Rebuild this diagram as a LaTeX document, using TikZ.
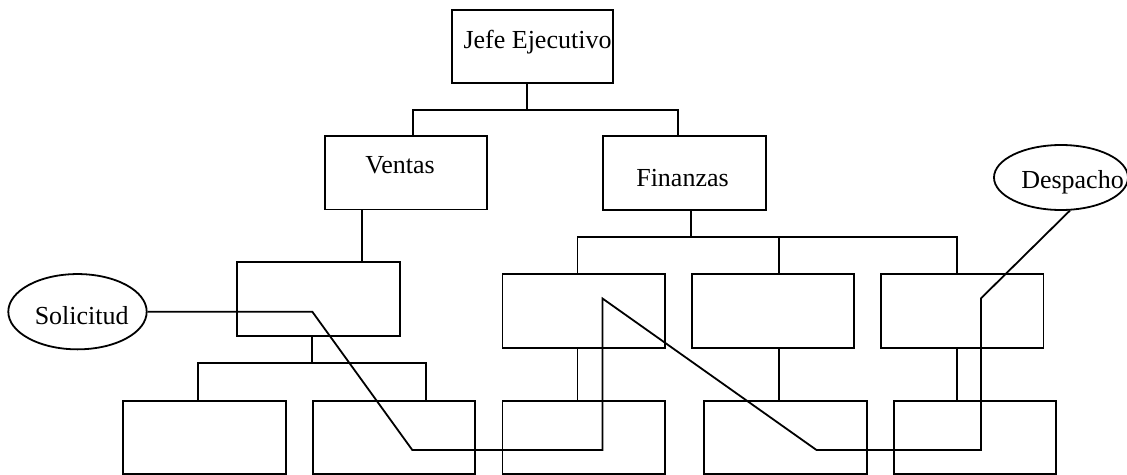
\documentclass[tikz,border=0pt]{standalone}
\usepackage{fontspec}
\setmainfont{Liberation Serif}
\usetikzlibrary{shapes.geometric}
\begin{document}
\begin{tikzpicture}[x=1pt,y=-1pt,line width=1.8pt,
  font=\fontsize{26}{30}\selectfont,
  orgbox/.style={draw, rectangle, inner sep=0pt, minimum width=#1, minimum height=73.5pt},
  oval/.style={draw, ellipse, inner sep=0pt},
]
\useasboundingbox (0,0) rectangle (1127,474);
\clip (0,0) rectangle (1127,474);

% top of the chart
\node[orgbox=161pt, minimum height=73pt,
      label={[xshift=5pt,yshift=4.7pt]center:Jefe Ejecutivo}] (jefe) at (532.5,46.5) {};
\node[orgbox=162pt, label={[xshift=-6pt,yshift=7.4pt]center:Ventas}] (ventas) at (406,172.75) {};
\node[orgbox=163pt, label={[xshift=-2pt,yshift=-5.4pt]center:Finanzas}] (finanzas) at (684.5,173) {};

% second level
\node[orgbox=163pt, minimum height=73.7pt] (ua) at (318.5,299.15) {};
\node[orgbox=162.5pt, minimum height=74pt] (ub) at (583.75,311.3) {};
\node[orgbox=162pt, minimum height=74pt] (uc) at (773,311.3) {};
\node[orgbox=162.5pt, minimum height=74pt] (ud) at (962.25,311.3) {};

% bottom level
\node[orgbox=163pt] (ba) at (204.5,437.5) {};
\node[orgbox=162.3pt] (bb) at (393.85,437.5) {};
\node[orgbox=162.5pt] (bc) at (583.75,437.5) {};
\node[orgbox=163.3pt] (bd) at (785.65,437.5) {};
\node[orgbox=162.2pt] (be) at (975.1,437.5) {};

% start and end of the flow
\node[oval, minimum width=138.4pt, minimum height=75.3pt,
      label={[xshift=4.2pt,yshift=-3.6pt]center:Solicitud}] (sol) at (77.5,311.7) {};
\node[oval, minimum width=134pt, minimum height=65pt,
      label={[xshift=11.5pt,yshift=-5pt]center:Despacho}] (desp) at (1061,177.5) {};

% hierarchy connectors
\draw ([xshift=-5.8pt]jefe.south) -- ++(0,26.3) coordinate (b1);
\draw ([xshift=7.3pt]ventas.north) |- (b1) -| ([xshift=-6.2pt]finanzas.north);

\draw ([xshift=-44.3pt]ventas.south) -- ([xshift=-44.3pt]ventas.south |- ua.north);
\draw ([xshift=-6.2pt]ua.south) -- ++(0,25.7) coordinate (b2);
\draw ([xshift=-6.3pt]ba.north) |- (b2) -| ([xshift=31.85pt]bb.north);

\draw ([xshift=6.2pt]finanzas.south) -- ++(0,26) coordinate (b3);
\draw ([xshift=-6.35pt]ub.north) |- (b3) -| ([xshift=-5.55pt]ud.north);
\draw ([xshift=6.2pt]uc.north) -- ([xshift=6.2pt]uc.north |- b3);

\draw ([xshift=-6.35pt]ub.south) -- ([xshift=-6.35pt]bc.north);
\draw ([xshift=6.2pt]uc.south) -- ([xshift=6.2pt]uc.south |- bd.north);
\draw ([xshift=-5.55pt]ud.south) -- ([xshift=-5.55pt]ud.south |- be.north);

% flow line from Solicitud to Despacho
\draw (sol.east) -- (312.3,311.7) -- (412.3,450) -- (602.5,450) -- (602.5,298.5)
      -- (816.5,450) -- (981,450) -- (981,298.3) -- (desp.-75);
\end{tikzpicture}
\end{document}
